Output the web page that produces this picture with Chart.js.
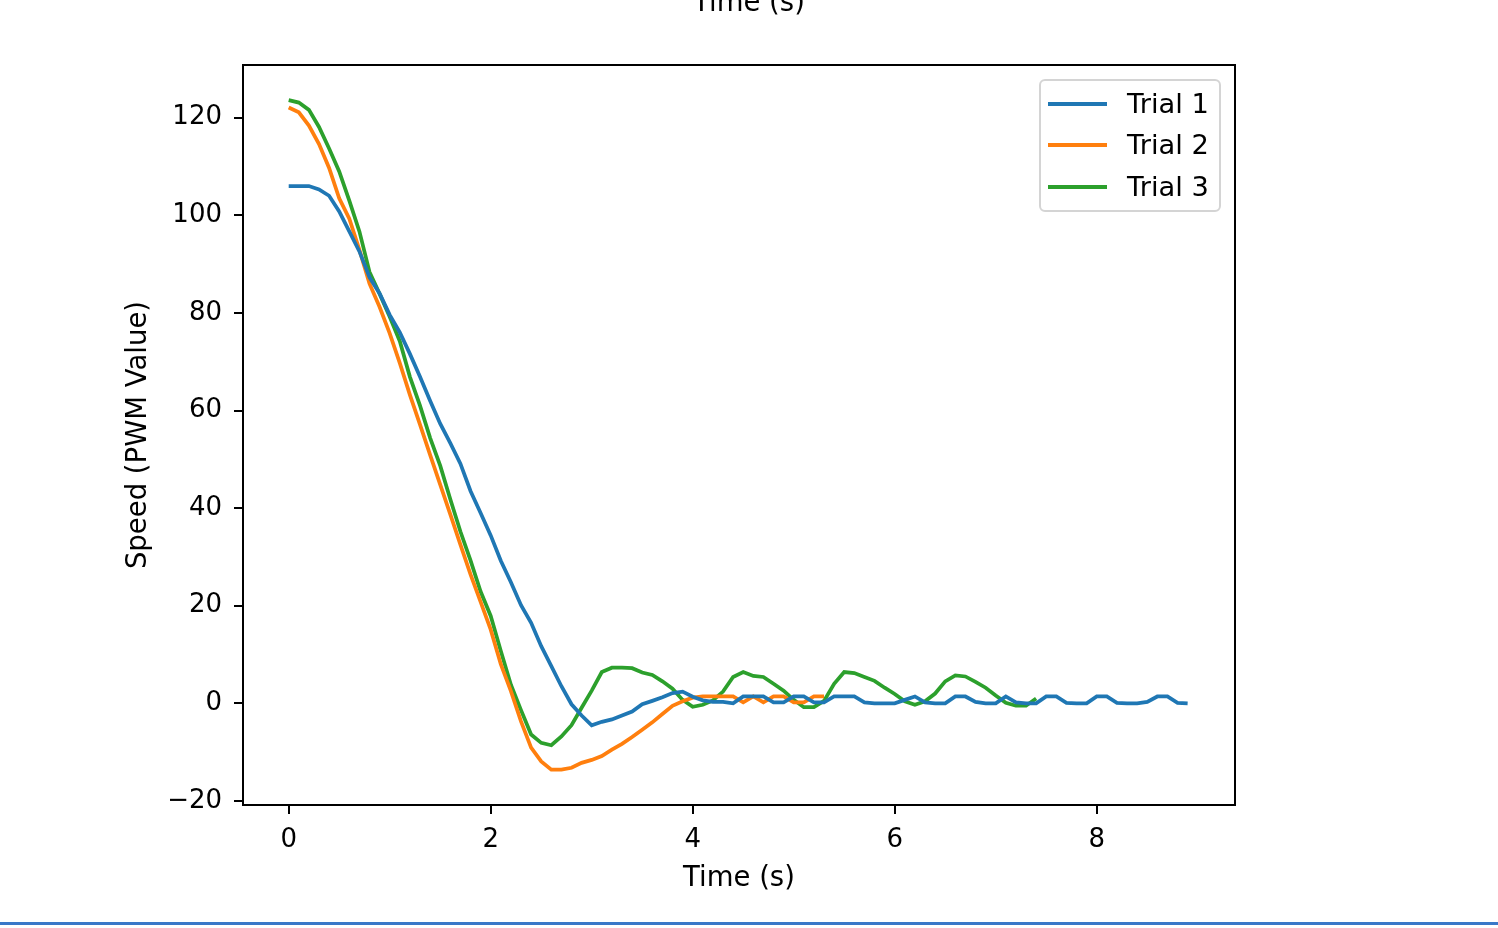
<!DOCTYPE html>
<html>
<head>
<meta charset="utf-8">
<script src="https://cdn.jsdelivr.net/npm/chart.js@4.4.0/dist/chart.umd.min.js"></script>
<style>
  html, body { margin: 0; padding: 0; background: #fff; overflow: hidden; }
  #wrap { position: relative; width: 1498px; height: 928px; }
  #topLabel { position: absolute; left: 0; width: 1498px; text-align: center; top: -15px;
    font-family: "DejaVu Sans"; font-size: 27.5px; line-height: 32px; color: #000; }
  #legend { position: absolute; left: 1039px; top: 79px; width: 178px; height: 129px;
    border: 2px solid #d4d4d4; border-radius: 6px; background: rgba(255,255,255,0.8);
    font-family: "DejaVu Sans"; font-size: 27.3px; color: #000; }
  .row { position: absolute; left: 0; height: 30px; }
  .swatch { position: absolute; left: 7px; width: 59px; height: 4px; top: 13px; }
  .lbl { position: absolute; left: 86px; top: 0; line-height: 30px; white-space: nowrap; }
  #bottomRule { position: absolute; left: 0; top: 922px; width: 1498px; height: 3px; background: #3a78c8; }
</style>
</head>
<body>
<div id="wrap">
  <canvas id="c" width="1498" height="928"></canvas>
  <div id="topLabel">Time (s)</div>
  <div id="legend"></div>
  <div id="bottomRule"></div>
</div>
<script>
// ---- data (sampled every 0.1 s) ----
const timeStep = 0.1;
const seriesLabels = ["Trial 1", "Trial 2", "Trial 3"];
const seriesColors = ["#1f77b4", "#ff7f0e", "#2ca02c"];

const trial1 = [
  106.0, 106.0, 106.0, 105.3, 104.0, 100.8, 96.7, 92.6, 87.3, 84.0,
  79.6, 76.0, 71.6, 66.9, 62.0, 57.3, 53.3, 49.1, 43.5, 39.0,
  34.4, 29.2, 24.8, 20.1, 16.5, 11.7, 7.6, 3.5, -0.2, -2.5,
  -4.5, -3.8, -3.3, -2.5, -1.7, -0.2, 0.5, 1.25, 2.1, 2.4,
  1.35, 0.6, 0.3, 0.3, 0, 1.4, 1.4, 1.4, 0.2, 0.2,
  1.4, 1.4, 0.2, 0.2, 1.4, 1.4, 1.4, 0.2, 0, 0,
  0, 0.7, 1.4, 0.2, 0, 0, 1.4, 1.4, 0.3, 0,
  0, 1.4, 0.2, 0, 0, 1.4, 1.4, 0.1, 0, 0,
  1.4, 1.4, 0.1, 0, 0, 0.3, 1.4, 1.4, 0.1, 0
];

const trial2 = [
  122.1, 121.1, 118.4, 114.6, 109.7, 103.5, 99.3, 92.9, 86.0, 81.2,
  75.8, 69.7, 63.2, 57.1, 50.9, 44.8, 38.7, 32.5, 26.4, 20.8,
  15.1, 8.0, 2.5, -3.7, -9.1, -11.9, -13.6, -13.6, -13.2, -12.2,
  -11.6, -10.8, -9.5, -8.3, -6.9, -5.4, -3.9, -2.2, -0.5, 0.4,
  1.15, 1.4, 1.4, 1.4, 1.4, 0.2, 1.4, 0.2, 1.4, 1.4,
  0.2, 0.2, 1.4, 1.4
];

const trial3 = [
  123.6, 123.1, 121.6, 118.1, 113.7, 109.0, 103.0, 96.7, 88.4, 83.9,
  79.2, 74.2, 66.9, 61.0, 54.4, 48.7, 41.8, 35.2, 29.3, 22.9,
  17.9, 10.7, 3.8, -1.4, -6.4, -8.1, -8.6, -6.8, -4.5, -0.9,
  2.6, 6.4, 7.3, 7.3, 7.2, 6.3, 5.8, 4.5, 3.0, 0.7,
  -0.7, -0.3, 0.6, 2.4, 5.4, 6.4, 5.6, 5.4, 4.0, 2.6,
  0.7, -0.8, -0.8, 0.5, 4.0, 6.4, 6.2, 5.4, 4.6, 3.2,
  1.9, 0.4, -0.3, 0.4, 2.0, 4.5, 5.7, 5.5, 4.4, 3.2,
  1.6, 0.1, -0.5, -0.5, 1.0
];

const xTicks = [0, 2, 4, 6, 8];
const yTicks = [-20, 0, 20, 40, 60, 80, 100, 120];

// ---- build chart ----
const allSeries = [trial1, trial2, trial3];
function toPoints(vals) {
  return vals.map((v, i) => ({ x: +(i * timeStep).toFixed(2), y: v }));
}
const datasets = allSeries.map((vals, k) => ({
  label: seriesLabels[k],
  data: toPoints(vals),
  borderColor: seriesColors[k],
  backgroundColor: seriesColors[k],
  borderWidth: 3.75,
  pointRadius: 0,
  tension: 0,
  fill: false
}));

const TICK_FONT = { family: "DejaVu Sans", size: 26 };
const TITLE_FONT = { family: "DejaVu Sans", size: 27.5 };
const minus = s => String(s).replace('-', '\u2212');

const framePlugin = {
  id: 'frame',
  afterDatasetsDraw(chart) {
    const { ctx, chartArea: a } = chart;
    ctx.save();
    ctx.strokeStyle = '#000';
    ctx.lineWidth = 2;
    ctx.strokeRect(a.left, a.top, a.right - a.left, a.bottom - a.top);
    ctx.restore();
  }
};

new Chart(document.getElementById('c'), {
  type: 'line',
  data: { datasets },
  plugins: [framePlugin],
  options: {
    responsive: false,
    animation: false,
    devicePixelRatio: 1,
    layout: { padding: { left: 100, right: 263, top: 65, bottom: 0 } },
    plugins: { legend: { display: false }, tooltip: { enabled: false } },
    scales: {
      x: {
        type: 'linear',
        min: -0.4525, max: 9.369,
        afterFit(s) { s.height = 123; },
        afterBuildTicks(s) { s.ticks = xTicks.map(v => ({ value: v })); },
        ticks: { font: TICK_FONT, color: '#000', padding: 11, maxRotation: 0,
                 callback: v => minus(v) },
        grid: { display: true, drawOnChartArea: false, drawTicks: true,
                tickLength: 9, lineWidth: 2, color: '#000' },
        border: { display: false },
        title: { display: true, text: 'Time (s)', font: TITLE_FONT, color: '#000',
                 padding: { top: 0, bottom: 33 } }
      },
      y: {
        type: 'linear',
        min: -20.84, max: 130.8,
        afterFit(s) { s.width = 143; },
        afterBuildTicks(s) { s.ticks = yTicks.map(v => ({ value: v })); },
        ticks: { font: TICK_FONT, color: '#000', padding: 12,
                 callback: v => minus(v) },
        grid: { display: true, drawOnChartArea: false, drawTicks: true,
                tickLength: 9, lineWidth: 2, color: '#000' },
        border: { display: false },
        title: { display: true, text: 'Speed (PWM Value)', font: TITLE_FONT, color: '#000',
                 padding: { top: 22, bottom: 0 } }
      }
    }
  }
});

// ---- legend (HTML) ----
const legend = document.getElementById('legend');
const rowTops = [8, 49, 91];
seriesLabels.forEach((lab, k) => {
  const row = document.createElement('div');
  row.className = 'row';
  row.style.top = rowTops[k] + 'px';
  const sw = document.createElement('div');
  sw.className = 'swatch';
  sw.style.background = seriesColors[k];
  const t = document.createElement('div');
  t.className = 'lbl';
  t.textContent = lab;
  row.appendChild(sw); row.appendChild(t);
  legend.appendChild(row);
});
</script>
</body>
</html>
